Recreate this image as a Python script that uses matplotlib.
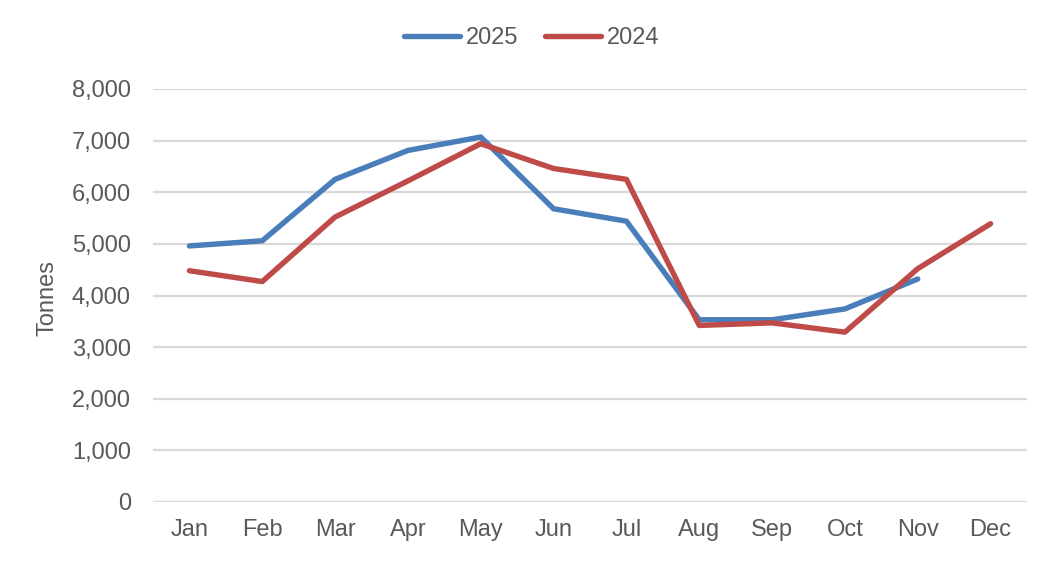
import matplotlib.pyplot as plt
from matplotlib.ticker import FuncFormatter

months = ['Jan', 'Feb', 'Mar', 'Apr', 'May', 'Jun', 'Jul', 'Aug', 'Sep', 'Oct', 'Nov', 'Dec']
tonnes_2025 = [4960, 5060, 6250, 6810, 7070, 5680, 5440, 3530, 3530, 3740, 4320]
tonnes_2024 = [4480, 4270, 5520, 6220, 6940, 6460, 6250, 3420, 3470, 3290, 4520, 5390]

plt.rcParams['font.family'] = ['Liberation Sans', 'DejaVu Sans']
txt = '#595959'

fig = plt.figure(figsize=(10.57, 5.62), dpi=100)
ax = fig.add_axes([153 / 1057, 1 - 502 / 562, 874 / 1057, 413 / 562])

x = list(range(len(months)))
ax.plot(x[:len(tonnes_2025)], tonnes_2025, color='#4A7EBB', lw=3.9, label='2025',
        solid_capstyle='round', solid_joinstyle='round')
ax.plot(x, tonnes_2024, color='#BE4B48', lw=3.9, label='2024',
        solid_capstyle='round', solid_joinstyle='round')

ax.set_xlim(-0.5, 11.5)
ax.set_ylim(0, 8000)
ax.set_yticks(range(0, 8001, 1000))
ax.yaxis.set_major_formatter(FuncFormatter(lambda v, p: f'{int(v):,}'))
ax.set_xticks(x)
ax.set_xticklabels(months)
ax.grid(axis='y', color='#D9D9D9', lw=1.6)
ax.set_axisbelow(True)
for s in ax.spines.values():
    s.set_visible(False)
ax.tick_params(length=0, labelsize=17, colors=txt)
ax.tick_params(axis='y', pad=16)
ax.tick_params(axis='x', pad=12.5)

fig.text(47 / 1057, 1 - 298 / 562, 'Tonnes', rotation=90, ha='center', va='center',
         fontsize=17, color=txt)

fig.legend(loc='center', bbox_to_anchor=(0.503, 1 - 38 / 562), ncol=2, frameon=False,
           fontsize=17, labelcolor=txt, handlelength=2.4, handletextpad=0.25,
           columnspacing=1.1)

fig.savefig('out.png', dpi=100)
